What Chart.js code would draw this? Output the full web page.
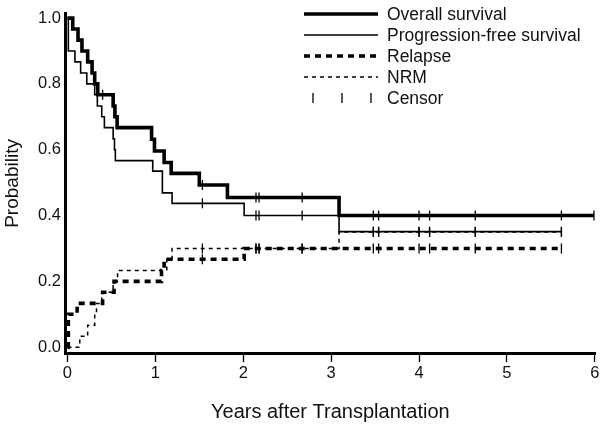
<!DOCTYPE html>
<html lang="en">
<head>
<meta charset="UTF-8">
<title>Survival after Transplantation</title>
<script src="https://cdn.jsdelivr.net/npm/chart.js@4"></script>
<style>
  body { margin: 0; background: #fff; }
  canvas { display: block; }
</style>
</head>
<body>
<canvas id="survChart" width="602" height="426"></canvas>
<script>
  // step curves: each value holds from its time until the next time (years)
  const osTimes   = [0, 0.06, 0.12, 0.165, 0.23, 0.28, 0.31, 0.345, 0.52, 0.54, 0.565, 0.957, 0.99, 1.10, 1.18, 1.50, 1.82, 3.09, 5.99];
  const osValues  = [1.0, 0.967, 0.933, 0.90, 0.867, 0.833, 0.80, 0.767, 0.733, 0.70, 0.667, 0.632, 0.596, 0.561, 0.528, 0.493, 0.455, 0.40, 0.40];

  const pfsTimes  = [0, 0.01, 0.085, 0.15, 0.22, 0.31, 0.34, 0.39, 0.42, 0.52, 0.535, 0.545, 0.97, 1.08, 1.19, 2.01, 3.09, 5.62];
  const pfsValues = [1.0, 0.90, 0.867, 0.833, 0.80, 0.767, 0.733, 0.70, 0.667, 0.633, 0.60, 0.567, 0.535, 0.469, 0.437, 0.40, 0.351, 0.351];

  const relTimes  = [0, 0.01, 0.11, 0.40, 0.53, 1.07, 1.10, 2.01, 5.62];
  const relValues = [0, 0.10, 0.133, 0.167, 0.20, 0.233, 0.267, 0.30, 0.30];

  const nrmTimes  = [0, 0.14, 0.23, 0.31, 0.33, 0.39, 0.52, 0.57, 1.13, 1.19, 3.09, 5.62];
  const nrmValues = [0, 0.033, 0.067, 0.10, 0.133, 0.167, 0.20, 0.233, 0.267, 0.30, 0.35, 0.35];

  // censoring times (years)
  const osCensor  = [0.40, 1.535, 2.145, 2.18, 2.67, 3.48, 3.54, 4.0, 4.12, 4.64, 5.62, 5.99];
  const pfsCensor = [1.535, 2.145, 2.18, 2.67, 3.48, 3.54, 4.0, 4.12, 4.64, 5.62];
  const relCensor = [1.535, 2.145, 2.18, 2.67, 3.48, 3.54, 4.0, 4.12, 4.64, 5.62];
  const nrmCensor = [1.535, 2.145, 2.18, 2.67, 3.48, 3.54, 4.0, 4.12, 4.64, 5.62];

  const xTicks = [0, 1, 2, 3, 4, 5, 6];
  const yTicks = [0, 0.2, 0.4, 0.6, 0.8, 1.0];
  const legendLabels = ['Overall survival', 'Progression-free survival', 'Relapse', 'NRM', 'Censor'];

  const FONT = '"Liberation Sans", Arial, sans-serif';

  function toPoints(times, values) {
    return times.map((t, i) => ({ x: t, y: values[i] }));
  }

  function stepAt(times, values, t) {
    let v = values[0];
    for (let i = 0; i < times.length; i++) {
      if (times[i] <= t) v = values[i];
    }
    return v;
  }

  function censorPoints(cens, times, values) {
    return cens.map(t => ({ x: t, y: stepAt(times, values, t) }));
  }

  const curveStyles = [
    { width: 3.6, dash: [] },
    { width: 1.6, dash: [] },
    { width: 3.6, dash: [6, 5] },
    { width: 1.5, dash: [4, 4] }
  ];

  function curve(label, times, values, style) {
    return {
      type: 'line',
      label: label,
      data: toPoints(times, values),
      stepped: 'before', // horizontal first, then drop: Kaplan-Meier style
      borderColor: '#000',
      borderWidth: style.width,
      borderDash: style.dash,
      borderCapStyle: 'butt',
      pointRadius: 0,
      fill: false,
      clip: 6
    };
  }

  function censors(label, pts) {
    return {
      type: 'scatter',
      label: label,
      data: pts,
      pointStyle: 'line',
      rotation: 90,
      pointRadius: 5,
      borderColor: '#000',
      backgroundColor: '#000',
      borderWidth: 1.3,
      showLine: false,
      clip: 6
    };
  }

  const kmLegend = {
    id: 'kmLegend',
    afterDraw(chart) {
      const ctx = chart.ctx;
      ctx.save();
      ctx.font = '17.5px ' + FONT;
      ctx.fillStyle = '#111';
      ctx.textBaseline = 'middle';
      legendLabels.forEach((label, i) => {
        const y = 14 + i * 21;
        ctx.strokeStyle = '#000';
        if (i < 4) {
          ctx.lineWidth = curveStyles[i].width;
          ctx.setLineDash(curveStyles[i].dash);
          ctx.beginPath();
          ctx.moveTo(304, y);
          ctx.lineTo(378, y);
          ctx.stroke();
        } else {
          ctx.lineWidth = 1.3;
          ctx.setLineDash([]);
          [313, 342, 371].forEach(x => {
            ctx.beginPath();
            ctx.moveTo(x, y - 5);
            ctx.lineTo(x, y + 5);
            ctx.stroke();
          });
        }
        ctx.setLineDash([]);
        ctx.fillText(label, 387, y + 1);
      });
      ctx.restore();
    }
  };

  new Chart(document.getElementById('survChart'), {
    data: {
      datasets: [
        curve('Overall survival', osTimes, osValues, curveStyles[0]),
        curve('Progression-free survival', pfsTimes, pfsValues, curveStyles[1]),
        curve('Relapse', relTimes, relValues, curveStyles[2]),
        curve('NRM', nrmTimes, nrmValues, curveStyles[3]),
        censors('OS censor', censorPoints(osCensor, osTimes, osValues)),
        censors('PFS censor', censorPoints(pfsCensor, pfsTimes, pfsValues)),
        censors('Relapse censor', censorPoints(relCensor, relTimes, relValues)),
        censors('NRM censor', censorPoints(nrmCensor, nrmTimes, nrmValues))
      ]
    },
    options: {
      responsive: false,
      animation: false,
      layout: { padding: { top: 4, right: 4, bottom: 0, left: 0 } },
      plugins: {
        legend: { display: false },
        tooltip: { enabled: false }
      },
      scales: {
        x: {
          type: 'linear',
          min: -0.028,
          max: 6.01,
          afterBuildTicks: s => { s.ticks = xTicks.map(v => ({ value: v })); },
          afterFit: s => { s.height = 73; },
          grid: { display: true, drawOnChartArea: false, drawTicks: true, tickLength: 9, tickWidth: 1.3, tickColor: '#000' },
          border: { display: true, color: '#000', width: 3 },
          ticks: { color: '#111', font: { size: 16.5, family: FONT }, padding: 2, maxRotation: 0, callback: v => String(v) },
          title: { display: true, text: 'Years after Transplantation', color: '#111', font: { size: 20, family: FONT }, padding: { top: 0, bottom: 2 } }
        },
        y: {
          type: 'linear',
          min: -0.0177,
          max: 1.0127,
          afterBuildTicks: s => { s.ticks = yTicks.map(v => ({ value: v })); },
          afterFit: s => { s.width = 65; },
          grid: { display: false, drawTicks: false },
          border: { display: true, color: '#000', width: 3 },
          ticks: { color: '#111', font: { size: 16.5, family: FONT }, padding: 4, callback: v => v.toFixed(1) },
          title: { display: true, text: 'Probability', color: '#111', font: { size: 19, family: FONT }, padding: { top: 1, bottom: 0 } }
        }
      }
    },
    plugins: [kmLegend]
  });
</script>
</body>
</html>
